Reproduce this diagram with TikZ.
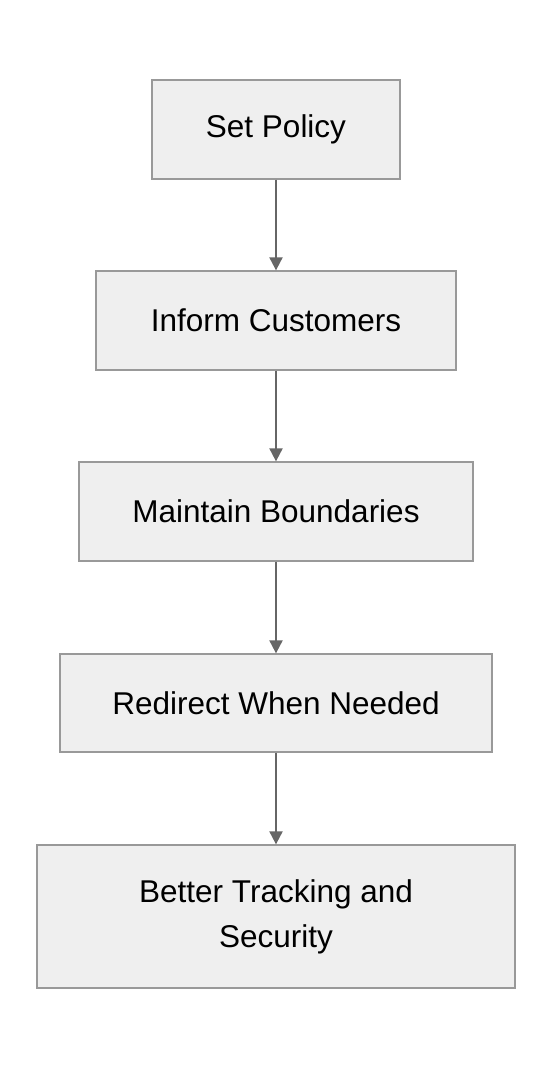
\documentclass[tikz,border=0pt]{standalone}
\usepackage{fontspec}
\setmainfont{Liberation Sans}
\usetikzlibrary{arrows.meta}
\definecolor{boxfill}{HTML}{EFEFEF}
\definecolor{boxline}{HTML}{999999}
\definecolor{arrowc}{HTML}{666666}
\begin{document}
\begin{tikzpicture}[x=1pt,y=-1pt,
  stepbox/.style={draw=boxline,fill=boxfill,line width=1.3pt,inner sep=0pt,
    font=\fontsize{31.5}{45}\selectfont,align=center,text=black},
  flow/.style={draw=arrowc,line width=2pt,-{Triangle[width=13pt,length=13pt]}}]
\useasboundingbox[fill=white] (0,0) rectangle (552,1068);
\node[stepbox,minimum width=248pt,minimum height=99pt] (a) at (276,129.5) {Set Policy};
\node[stepbox,minimum width=360pt,minimum height=99pt] (b) at (276,320.5) {Inform Customers};
\node[stepbox,minimum width=394pt,minimum height=99pt] (c) at (276,511.5) {Maintain Boundaries};
\node[stepbox,minimum width=432pt,minimum height=98pt] (d) at (276,703) {Redirect When Needed};
\node[stepbox,minimum width=478pt,minimum height=143pt] (e) at (276,916.5) {Better Tracking and\\Security};
\draw[flow] (a) -- (b);
\draw[flow] (b) -- (c);
\draw[flow] (c) -- (d);
\draw[flow] (d) -- (e);
\end{tikzpicture}
\end{document}
